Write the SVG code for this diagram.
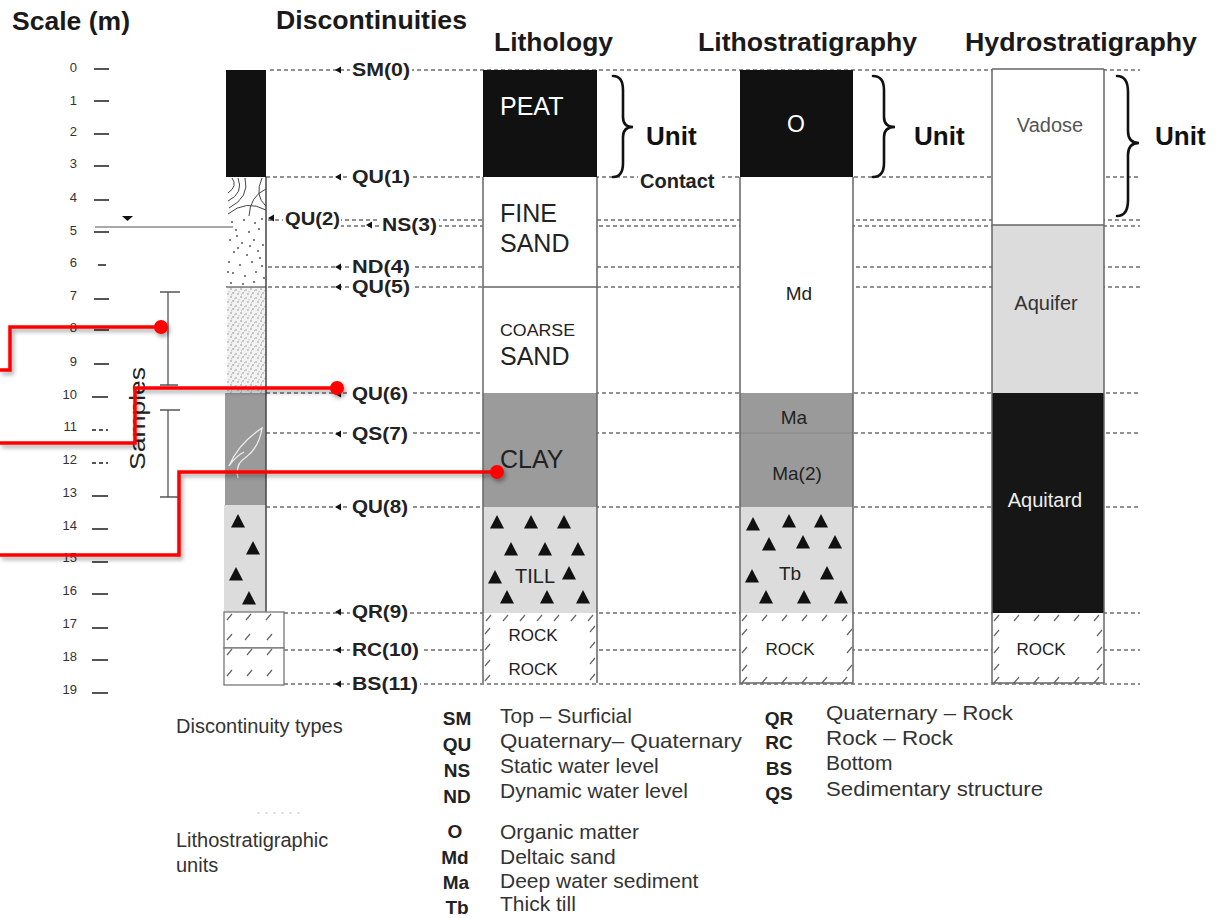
<svg xmlns="http://www.w3.org/2000/svg" xmlns:xlink="http://www.w3.org/1999/xlink" width="1221" height="918" viewBox="0 0 1221 918">
<style>
text{font-family:'Liberation Sans',Arial,Helvetica,sans-serif}
.hdr{font-size:25px;font-weight:bold;fill:#1a1a1a}
.num{font-size:13px;fill:#333;text-anchor:end}
.tick{stroke:#555;stroke-width:1.8}
.dash{stroke:#6e6e6e;stroke-width:1.3;stroke-dasharray:4 3;fill:none}
.lbl{font-size:18px;font-weight:bold;fill:#222}
.bg{fill:#fff}
.col{stroke:#666;stroke-width:1.5}
.wt{fill:#fff}
.dk{fill:#222}
.c25{font-size:25px}
.c20{font-size:20px}
.c17{font-size:17px}
.mid{text-anchor:middle}
.unit{font-size:26px;font-weight:bold;fill:#111}
.brace{fill:none;stroke:#111;stroke-width:2.6;stroke-linecap:round}
.slash{fill:none;stroke:#666;stroke-width:1.2}
.red{fill:none;stroke:#f00;stroke-width:3.5}
.desc{font-size:21px;fill:#333}
.code{font-size:19px;font-weight:bold;fill:#222;text-anchor:middle}
.leg{font-size:20px;fill:#333}
</style>
<defs>
<path id="tri" d="M0,-7 L7,6.5 L-7,6.5 Z" fill="#111"/>
<path id="ltri" d="M0,0 L6,-3.5 L6,3.5 Z" fill="#111"/>
<pattern id="stip" width="10" height="8" patternUnits="userSpaceOnUse">
<rect width="10" height="8" fill="#f2f2f2"/>
<circle cx="1" cy="1" r="0.7" fill="#777"/>
<circle cx="6" cy="2" r="0.7" fill="#888"/>
<circle cx="3" cy="5" r="0.7" fill="#777"/>
<circle cx="8" cy="6" r="0.7" fill="#888"/>
<circle cx="4.5" cy="2.8" r="0.5" fill="#999"/>
<circle cx="9" cy="3.8" r="0.5" fill="#999"/>
<circle cx="1.5" cy="6.8" r="0.5" fill="#999"/>
</pattern>
<filter id="sh" x="-10%" y="-10%" width="130%" height="140%">
<feDropShadow dx="2" dy="3" stdDeviation="2" flood-color="#000" flood-opacity="0.35"/>
</filter>
</defs>

<rect width="1221" height="918" fill="#fff"/>

<!-- headers -->
<g id="headers">
<text class="hdr" x="12" y="30" textLength="118" lengthAdjust="spacingAndGlyphs">Scale (m)</text>
<text class="hdr" x="276" y="29" textLength="191" lengthAdjust="spacingAndGlyphs">Discontinuities</text>
<text class="hdr" x="494" y="51" textLength="119" lengthAdjust="spacingAndGlyphs">Lithology</text>
<text class="hdr" x="698" y="51" textLength="219" lengthAdjust="spacingAndGlyphs">Lithostratigraphy</text>
<text class="hdr" x="965" y="51" textLength="232" lengthAdjust="spacingAndGlyphs">Hydrostratigraphy</text>
</g>

<!-- scale -->
<g id="scale">
<text class="num" x="77" y="72">0</text>
<text class="num" x="77" y="105">1</text>
<text class="num" x="77" y="136">2</text>
<text class="num" x="77" y="168">3</text>
<text class="num" x="77" y="202">4</text>
<text class="num" x="77" y="235">5</text>
<text class="num" x="77" y="267">6</text>
<text class="num" x="77" y="300">7</text>
<text class="num" x="77" y="332">8</text>
<text class="num" x="77" y="366">9</text>
<text class="num" x="77" y="399">10</text>
<text class="num" x="77" y="431">11</text>
<text class="num" x="77" y="464">12</text>
<text class="num" x="77" y="497">13</text>
<text class="num" x="77" y="530">14</text>
<text class="num" x="77" y="562">15</text>
<text class="num" x="77" y="595">16</text>
<text class="num" x="77" y="628">17</text>
<text class="num" x="77" y="661">18</text>
<text class="num" x="77" y="694">19</text>
<path class="tick" d="M94,69H109M94,101H109M94,134H109M94,166H109M94,200H109M94,232H109M98,265H106M94,299H109M94,330H109M94,364H109M92,397H108M92,496H108M92,529H108M92,562H108M92,594H108M92,628H108M92,660H108M92,693H108"/>
<path class="tick" d="M92,430H108M92,463H108" stroke-dasharray="4 3"/>
</g>

<!-- water table and samples -->
<g id="watertable">
<line x1="95" y1="227" x2="233" y2="227" stroke="#555" stroke-width="1"/>
<path d="M122,216 L133,216 L127.5,221 Z" fill="#111"/>
</g>
<g id="samples">
<path d="M168,292V385M160,292H180M160,385H178M168,410V497M160,410H180M160,497H178" stroke="#555" stroke-width="1.3" fill="none"/>
<text x="0" y="0" transform="translate(145,470) rotate(-90)" font-size="22" fill="#222" textLength="103" lengthAdjust="spacingAndGlyphs">Samples</text>
</g>

<!-- dashed discontinuity lines -->
<g id="connectors">
<path class="dash" d="M270,70H1140M266,177H1140M268,220H1140M340,226H1140M268,267H1140M268,287H1140M266,393H1140M266,433H1140M266,507H1140M284,613H1140M284,650H1140M284,684H1140"/>
</g>

<!-- log column -->
<g id="log">
<rect x="226" y="70" width="40" height="107" fill="#111"/>
<path d="M232,178 Q238,186 228,193 M238,178 Q244,193 228,201 M245,178 Q250,197 229,208 M262,178 Q254,196 266,206 M266,189 Q250,196 249,216 M228,214 Q246,199 266,210" fill="none" stroke="#444" stroke-width="1"/>
<g fill="#555">
<circle cx="232" cy="222" r="1"/><circle cx="244" cy="220" r="1"/><circle cx="255" cy="223" r="1"/><circle cx="262" cy="219" r="1"/>
<circle cx="236" cy="230" r="1"/><circle cx="249" cy="232" r="1"/><circle cx="259" cy="229" r="1"/><circle cx="230" cy="240" r="1"/>
<circle cx="242" cy="243" r="1"/><circle cx="254" cy="240" r="1"/><circle cx="263" cy="245" r="1"/><circle cx="234" cy="252" r="1"/>
<circle cx="247" cy="255" r="1"/><circle cx="258" cy="251" r="1"/><circle cx="229" cy="262" r="1"/><circle cx="240" cy="265" r="1"/>
<circle cx="252" cy="262" r="1"/><circle cx="262" cy="266" r="1"/><circle cx="233" cy="273" r="1"/><circle cx="245" cy="276" r="1"/>
<circle cx="256" cy="272" r="1"/><circle cx="264" cy="278" r="1"/><circle cx="231" cy="283" r="1"/><circle cx="243" cy="284" r="1"/>
<circle cx="254" cy="282" r="1"/><circle cx="238" cy="248" r="1"/><circle cx="250" cy="246" r="1"/><circle cx="228" cy="272" r="1"/>
<circle cx="260" cy="258" r="1"/><circle cx="237" cy="236" r="1"/>
</g>
<rect x="227" y="287" width="39" height="106" fill="url(#stip)"/>
<line x1="226" y1="287" x2="266" y2="287" stroke="#333" stroke-width="1"/>
<rect x="225" y="393" width="41" height="112" fill="#9a9a9a"/>
<path d="M229,466 Q238,444 262,428 Q259,448 245,458 Q235,464 238,478 M229,466 Q236,456 244,452" fill="none" stroke="#eee" stroke-width="1.3"/>
<rect x="224" y="505" width="42" height="107" fill="#dcdcdc"/>
<use xlink:href="#tri" x="238" y="521"/>
<use xlink:href="#tri" x="253" y="548"/>
<use xlink:href="#tri" x="236" y="574"/>
<use xlink:href="#tri" x="249" y="598"/>
<line x1="266" y1="177" x2="266" y2="612" stroke="#444" stroke-width="1.5"/>
<rect x="224" y="612" width="60" height="36" fill="#fff" stroke="#777" stroke-width="1.3"/>
<rect x="224" y="648" width="60" height="37" fill="#fff" stroke="#777" stroke-width="1.3"/>
<path class="slash" d="M227,620l5,-6M246,620l5,-6M266,620l5,-6M227,640l5,-6M245,640l5,-6M267,640l5,-6M227,655l5,-6M247,655l5,-6M267,655l5,-6M227,676l5,-6M247,676l5,-6M267,676l5,-6"/>
</g>

<!-- discontinuity labels -->
<g id="labels">
<rect class="bg" x="350" y="61" width="62" height="18"/>
<use xlink:href="#ltri" x="335" y="70"/>
<text class="lbl" x="352" y="76" textLength="58" lengthAdjust="spacingAndGlyphs">SM(0)</text>
<rect class="bg" x="350" y="168" width="62" height="18"/>
<use xlink:href="#ltri" x="335" y="177"/>
<text class="lbl" x="352" y="183" textLength="58" lengthAdjust="spacingAndGlyphs">QU(1)</text>
<rect class="bg" x="283" y="210" width="58" height="18"/>
<use xlink:href="#ltri" x="268" y="218"/>
<text class="lbl" x="285" y="225" textLength="55" lengthAdjust="spacingAndGlyphs">QU(2)</text>
<rect class="bg" x="380" y="216" width="59" height="18"/>
<use xlink:href="#ltri" x="366" y="225"/>
<text class="lbl" x="382" y="231" textLength="55" lengthAdjust="spacingAndGlyphs">NS(3)</text>
<rect class="bg" x="350" y="258" width="62" height="18"/>
<use xlink:href="#ltri" x="335" y="267"/>
<text class="lbl" x="352" y="273" textLength="58" lengthAdjust="spacingAndGlyphs">ND(4)</text>
<rect class="bg" x="350" y="278" width="62" height="18"/>
<use xlink:href="#ltri" x="335" y="287"/>
<text class="lbl" x="352" y="293" textLength="58" lengthAdjust="spacingAndGlyphs">QU(5)</text>
<rect class="bg" x="350" y="385" width="60" height="18"/>
<use xlink:href="#ltri" x="335" y="394"/>
<text class="lbl" x="352" y="400" textLength="56" lengthAdjust="spacingAndGlyphs">QU(6)</text>
<rect class="bg" x="350" y="425" width="60" height="18"/>
<use xlink:href="#ltri" x="335" y="434"/>
<text class="lbl" x="352" y="440" textLength="56" lengthAdjust="spacingAndGlyphs">QS(7)</text>
<rect class="bg" x="350" y="498" width="60" height="18"/>
<use xlink:href="#ltri" x="335" y="507"/>
<text class="lbl" x="352" y="513" textLength="56" lengthAdjust="spacingAndGlyphs">QU(8)</text>
<rect class="bg" x="350" y="603" width="60" height="18"/>
<use xlink:href="#ltri" x="335" y="612"/>
<text class="lbl" x="352" y="618" textLength="56" lengthAdjust="spacingAndGlyphs">QR(9)</text>
<rect class="bg" x="350" y="641" width="71" height="18"/>
<use xlink:href="#ltri" x="335" y="650"/>
<text class="lbl" x="352" y="656" textLength="67" lengthAdjust="spacingAndGlyphs">RC(10)</text>
<rect class="bg" x="350" y="675" width="70" height="18"/>
<use xlink:href="#ltri" x="335" y="684"/>
<text class="lbl" x="352" y="690" textLength="66" lengthAdjust="spacingAndGlyphs">BS(11)</text>
</g>

<!-- lithology column -->
<g id="lithology">
<rect x="483" y="70" width="114" height="107" fill="#111"/>
<rect x="483" y="177" width="114" height="110" fill="#fff"/>
<rect x="483" y="287" width="114" height="106" fill="#fff"/>
<rect x="483" y="393" width="114" height="114" fill="#9b9b9b"/>
<rect x="483" y="507" width="114" height="106" fill="#dcdcdc"/>
<rect x="483" y="613" width="114" height="70" fill="#fff"/>
<path class="col" d="M483,177V683M597,177V683M483,287H597" fill="none"/>
<path class="slash" d="M486,621l5,-6M503,621l5,-6M520,621l5,-6M537,621l5,-6M554,621l5,-6M571,621l5,-6M588,621l5,-6M485,634l5,-6M485,650l5,-6M485,666l5,-6M485,681l5,-6M590,632l5,-6M590,648l5,-6M590,664l5,-6M590,680l5,-6"/>
<text class="c25 wt" x="500" y="115">PEAT</text>
<text class="c25 dk" x="500" y="222">FINE</text>
<text class="c25 dk" x="500" y="252">SAND</text>
<text class="dk" font-size="16" x="500" y="336" textLength="75" lengthAdjust="spacingAndGlyphs">COARSE</text>
<text class="c25 dk" x="500" y="365">SAND</text>
<text class="c25 dk" x="500" y="468">CLAY</text>
<use xlink:href="#tri" x="497" y="522"/><use xlink:href="#tri" x="531" y="522"/><use xlink:href="#tri" x="564" y="522"/>
<use xlink:href="#tri" x="511" y="549"/><use xlink:href="#tri" x="545" y="549"/><use xlink:href="#tri" x="578" y="549"/>
<use xlink:href="#tri" x="495" y="577"/><use xlink:href="#tri" x="569" y="573"/>
<use xlink:href="#tri" x="507" y="597"/><use xlink:href="#tri" x="547" y="597"/><use xlink:href="#tri" x="583" y="597"/>
<text class="c20 dk" x="515" y="583">TILL</text>
<text class="c17 dk mid" x="533" y="641">ROCK</text>
<text class="c17 dk mid" x="533" y="675">ROCK</text>
</g>

<!-- brace 1 -->
<g id="unit1">
<path class="brace" d="M613,76 Q623,76 623,90 L623,117 Q623,127 633,127 Q623,127 623,137 L623,163 Q623,177 613,177"/>
<text class="unit" x="646" y="145">Unit</text>
<rect class="bg" x="638" y="172" width="84" height="17"/>
<text x="640" y="188" font-size="20" font-weight="bold" fill="#222">Contact</text>
</g>

<!-- lithostratigraphy column -->
<g id="lithostratigraphy">
<rect x="740" y="70" width="113" height="107" fill="#111"/>
<rect x="740" y="177" width="113" height="216" fill="#fff"/>
<rect x="740" y="393" width="113" height="114" fill="#9a9a9a"/>
<line x1="740" y1="433" x2="853" y2="433" stroke="#888" stroke-width="1"/>
<rect x="740" y="507" width="113" height="106" fill="#dcdcdc"/>
<rect x="740" y="613" width="113" height="70" fill="#fff"/>
<path class="col" d="M740,177V683M853,177V683M740,683H853" fill="none"/>
<path class="slash" d="M742,621l5,-6M762,621l5,-6M782,621l5,-6M802,621l5,-6M822,621l5,-6M842,621l5,-6M742,635l5,-6M742,653l5,-6M742,671l5,-6M847,635l5,-6M847,653l5,-6M847,671l5,-6M742,683l5,-6M762,683l5,-6M782,683l5,-6M802,683l5,-6M822,683l5,-6M842,683l5,-6"/>
<text class="wt mid" x="796" y="132" font-size="23">O</text>
<text class="dk mid" x="799" y="300" font-size="19">Md</text>
<text class="dk mid" x="794" y="424" font-size="19">Ma</text>
<text class="dk mid" x="797" y="480" font-size="19">Ma(2)</text>
<use xlink:href="#tri" x="753" y="524"/><use xlink:href="#tri" x="789" y="521"/><use xlink:href="#tri" x="821" y="521"/>
<use xlink:href="#tri" x="769" y="544"/><use xlink:href="#tri" x="803" y="542"/><use xlink:href="#tri" x="835" y="542"/>
<use xlink:href="#tri" x="752" y="576"/><use xlink:href="#tri" x="827" y="573"/>
<use xlink:href="#tri" x="766" y="597"/><use xlink:href="#tri" x="804" y="597"/><use xlink:href="#tri" x="841" y="597"/>
<text class="dk mid" x="790" y="580" font-size="19">Tb</text>
<text class="c17 dk mid" x="790" y="655">ROCK</text>
</g>

<!-- brace 2 -->
<g id="unit2">
<path class="brace" d="M873,76 Q884,76 884,90 L884,117 Q884,127 895,127 Q884,127 884,137 L884,163 Q884,177 873,177"/>
<text class="unit" x="914" y="145">Unit</text>
</g>

<!-- hydrostratigraphy column -->
<g id="hydrostratigraphy">
<rect x="992" y="69" width="112" height="156" fill="#fff"/>
<rect x="992" y="225" width="112" height="168" fill="#dcdcdc"/>
<rect x="992" y="393" width="112" height="220" fill="#161616"/>
<rect x="992" y="613" width="112" height="70" fill="#fff"/>
<path class="col" d="M992,69V683M1104,69V683M992,69H1104M992,225H1104M992,683H1104" fill="none"/>
<path class="slash" d="M994,621l5,-6M1014,621l5,-6M1034,621l5,-6M1054,621l5,-6M1074,621l5,-6M1094,621l5,-6M994,636l5,-6M994,653l5,-6M994,670l5,-6M1097,636l5,-6M1097,653l5,-6M1097,670l5,-6M994,683l5,-6M1014,683l5,-6M1034,683l5,-6M1054,683l5,-6M1074,683l5,-6M1094,683l5,-6"/>
<text class="mid" x="1050" y="132" font-size="20" fill="#555">Vadose</text>
<text class="mid" x="1046" y="310" font-size="20" fill="#333">Aquifer</text>
<text class="mid" x="1045" y="507" font-size="20" fill="#eee">Aquitard</text>
<text class="c17 dk mid" x="1041" y="655">ROCK</text>
</g>

<!-- brace 3 -->
<g id="unit3">
<path class="brace" d="M1117,76 Q1128,76 1128,92 L1128,131 Q1128,143 1139,143 Q1128,143 1128,155 L1128,200 Q1128,216 1117,216"/>
<text class="unit" x="1155" y="145">Unit</text>
</g>

<!-- legend -->
<g id="legend">
<text class="leg" x="176" y="733">Discontinuity types</text>
<text class="code" x="457" y="725">SM</text><text class="desc" x="500" y="723">Top – Surficial</text>
<text class="code" x="457" y="751">QU</text><text class="desc" x="500" y="748" textLength="242" lengthAdjust="spacingAndGlyphs">Quaternary– Quaternary</text>
<text class="code" x="457" y="777">NS</text><text class="desc" x="500" y="773">Static water level</text>
<text class="code" x="457" y="803">ND</text><text class="desc" x="500" y="798">Dynamic water level</text>
<text class="code" x="779" y="725">QR</text><text class="desc" x="826" y="720" textLength="187" lengthAdjust="spacingAndGlyphs">Quaternary – Rock</text>
<text class="code" x="779" y="749">RC</text><text class="desc" x="826" y="745" textLength="127" lengthAdjust="spacingAndGlyphs">Rock – Rock</text>
<text class="code" x="779" y="775">BS</text><text class="desc" x="826" y="770">Bottom</text>
<text class="code" x="779" y="800">QS</text><text class="desc" x="826" y="796" textLength="217" lengthAdjust="spacingAndGlyphs">Sedimentary structure</text>
<line x1="257" y1="813" x2="300" y2="813" stroke="#ccc" stroke-width="1" stroke-dasharray="3 5"/>
<text class="leg" x="176" y="847">Lithostratigraphic</text>
<text class="leg" x="176" y="872">units</text>
<text class="code" x="455" y="838">O</text><text class="desc" x="500" y="839">Organic matter</text>
<text class="code" x="455" y="864">Md</text><text class="desc" x="500" y="864">Deltaic sand</text>
<text class="code" x="456" y="889">Ma</text><text class="desc" x="500" y="888">Deep water sediment</text>
<text class="code" x="457" y="914">Tb</text><text class="desc" x="500" y="911">Thick till</text>
</g>

<!-- red callout connectors -->
<g id="callouts" filter="url(#sh)">
<path class="red" d="M161,327 H10 V370 H0"/>
<circle cx="161" cy="327" r="7" fill="#f00"/>
<path class="red" d="M337,388 H135 V443 H0"/>
<circle cx="337" cy="388" r="7" fill="#f00"/>
<path class="red" d="M497,472 H179 V555 H0"/>
<circle cx="497" cy="472" r="7" fill="#f00"/>
</g>
</svg>
